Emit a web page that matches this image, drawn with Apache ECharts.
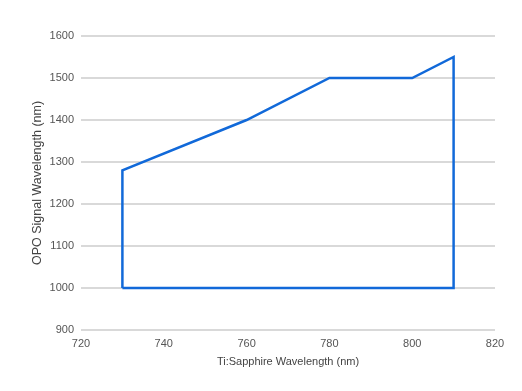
<!DOCTYPE html>
<html>
<head>
<meta charset="utf-8">
<script src="https://cdn.jsdelivr.net/npm/echarts@6/dist/echarts.min.js"></script>
<style>html,body{margin:0;padding:0;background:#fff;}#c{width:522px;height:391px;}</style>
</head>
<body>
<div id="c"></div>
<script>
var xValues = [730, 730, 760, 780, 800, 810, 810, 730];
var yValues = [1000, 1280, 1400, 1500, 1500, 1550, 1000, 1000];
var xTicks = [720, 740, 760, 780, 800, 820];
var yTicks = [900, 1000, 1100, 1200, 1300, 1400, 1500, 1600];

var pts = xValues.map(function (x, i) { return [x, yValues[i]]; });
var font = 'Helvetica, "Liberation Sans", Arial, sans-serif';
var chart = echarts.init(document.getElementById('c'));
chart.setOption({
  animation: false,
  grid: { left: 81, right: 27, top: 36, bottom: 61 },
  xAxis: {
    type: 'value', min: xTicks[0], max: xTicks[xTicks.length - 1], interval: 20,
    name: 'Ti:Sapphire Wavelength (nm)', nameLocation: 'middle', nameGap: 26,
    nameTextStyle: { color: '#444', fontSize: 11, fontFamily: font },
    axisLine: { show: false }, axisTick: { show: false }, splitLine: { show: false },
    axisLabel: { color: '#555', fontSize: 11, fontFamily: font, margin: 8,
      formatter: function (v) { return String(v); } }
  },
  yAxis: {
    type: 'value', min: yTicks[0], max: yTicks[yTicks.length - 1], interval: 100,
    name: 'OPO Signal Wavelength (nm)', nameLocation: 'middle', nameGap: 37,
    nameMoveOverlap: false,
    nameTextStyle: { color: '#444', fontSize: 12.5, fontFamily: font },
    axisLine: { show: false }, axisTick: { show: false },
    splitLine: { lineStyle: { color: '#cccccc', width: 1.5 } },
    axisLabel: { color: '#555', fontSize: 11, fontFamily: font, margin: 7,
      formatter: function (v) { return String(v); } }
  },
  series: [{
    type: 'line', data: pts, symbol: 'none',
    lineStyle: { color: '#1169d9', width: 2.5, join: 'miter' }
  }]
});
</script>
</body>
</html>
